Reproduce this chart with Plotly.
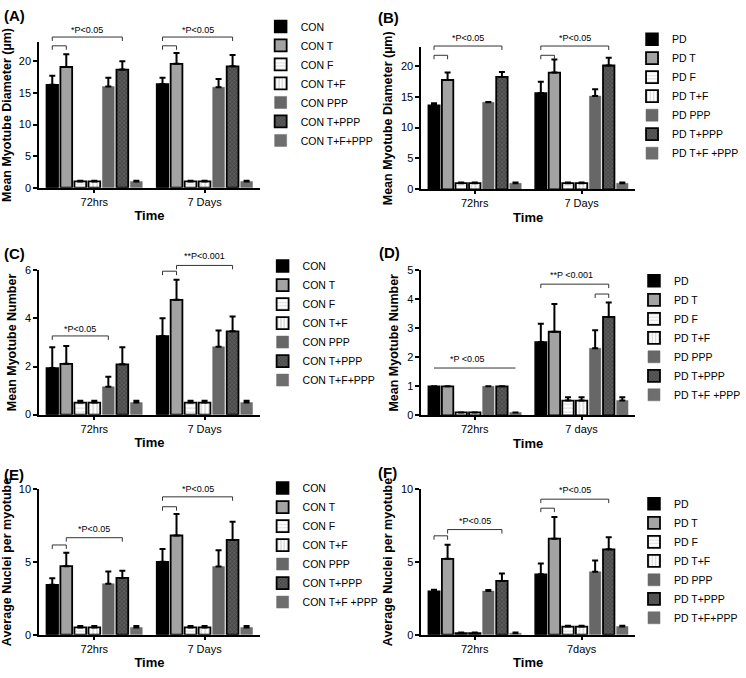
import plotly.graph_objects as go

W, H = 746, 678

# ---------------- data ----------------
series_con = ["CON", "CON T", "CON F", "CON T+F", "CON PPP", "CON T+PPP", "CON T+F+PPP"]
series_con_e = ["CON", "CON T", "CON F", "CON T+F", "CON PPP", "CON T+PPP", "CON T+F +PPP"]
series_pd = ["PD", "PD T", "PD F", "PD T+F", "PD PPP", "PD T+PPP", "PD T+F +PPP"]
series_pd_f = ["PD", "PD T", "PD F", "PD T+F", "PD PPP", "PD T+PPP", "PD T+F+PPP"]

cats_a = ["72hrs", "7 Days"]
cats_d = ["72hrs", "7 days"]
cats_f = ["72hrs", "7days"]

# Panel A: myotube diameter, CON
a_72 = [16.3, 19.1, 1.0, 1.0, 16.0, 18.7, 1.0]
a_72_err = [1.4, 2.0, 0.1, 0.1, 1.4, 1.3, 0.1]
a_7d = [16.4, 19.6, 1.0, 1.0, 15.9, 19.2, 1.0]
a_7d_err = [1.0, 1.7, 0.1, 0.1, 1.3, 1.8, 0.1]
# Panel B: myotube diameter, PD
b_72 = [13.6, 17.7, 1.0, 1.0, 14.1, 18.2, 1.0]
b_72_err = [0.35, 1.2, 0.1, 0.1, 0.05, 0.8, 0.1]
b_7d = [15.6, 18.9, 1.0, 1.0, 15.1, 20.05, 1.0]
b_7d_err = [1.8, 2.1, 0.1, 0.1, 1.1, 1.25, 0.1]
# Panel C: myotube number, CON
c_72 = [1.94, 2.11, 0.5, 0.5, 1.16, 2.09, 0.5]
c_72_err = [0.86, 0.74, 0.08, 0.08, 0.41, 0.71, 0.08]
c_7d = [3.27, 4.77, 0.5, 0.5, 2.82, 3.46, 0.5]
c_7d_err = [0.73, 0.83, 0.08, 0.08, 0.68, 0.62, 0.08]
# Panel D: myotube number, PD
d_72 = [1.0, 1.0, 0.1, 0.1, 1.0, 1.0, 0.1]
d_72_err = [None, None, None, None, None, None, None]
d_7d = [2.53, 2.88, 0.51, 0.51, 2.31, 3.39, 0.51]
d_7d_err = [0.63, 0.96, 0.11, 0.11, 0.62, 0.5, 0.11]
# Panel E: nuclei per myotube, CON
e_72 = [3.43, 4.71, 0.5, 0.5, 3.5, 3.9, 0.5]
e_72_err = [0.45, 0.92, 0.1, 0.1, 0.85, 0.5, 0.1]
e_7d = [5.02, 6.82, 0.5, 0.5, 4.69, 6.52, 0.5]
e_7d_err = [0.88, 1.48, 0.1, 0.1, 1.11, 1.24, 0.1]
# Panel F: nuclei per myotube, PD
f_72 = [2.98, 5.22, 0.1, 0.1, 3.0, 3.7, 0.1]
f_72_err = [0.11, 0.97, 0.05, 0.05, 0.08, 0.5, 0.05]
f_7d = [4.15, 6.6, 0.56, 0.56, 4.33, 5.87, 0.56]
f_7d_err = [0.75, 1.5, 0.06, 0.06, 0.77, 0.83, 0.06]

y_title_diam = "Mean Myotube Diameter (µm)"
y_title_num = "Mean Myotube Number"
y_title_nuc = "Average Nuclei per myotube"

# significance brackets: (category, bar_from, bar_to, level, text, text_level, text_pos, ends)
brackets_a = [(0, 0, 5, 23.84, "*P<0.05", 25.0, None, True), (0, 0, 1, 22.45, "", 0, None, True),
              (1, 0, 5, 23.84, "*P<0.05", 25.0, None, True), (1, 0, 1, 22.45, "", 0, None, True)]
brackets_b = [(0, 0, 5, 23.2, "*P<0.05", 24.5, None, True), (0, 0, 1, 21.7, "", 0, None, True),
              (1, 0, 5, 23.2, "*P<0.05", 24.5, None, True), (1, 0, 1, 21.7, "", 0, None, True)]
brackets_c = [(0, 0, 4, 3.27, "*P<0.05", 3.55, None, True), (1, 0, 1, 5.96, "", 0, None, True),
              (1, 1, 5, 6.2, "**P<0.001", 6.6, None, True)]
brackets_d = [(0, 0, 6, 1.63, "*P <0.05", 1.93, 2.5, False), (1, 0, 5, 4.52, "**P <0.001", 4.82, 2.25, True),
              (1, 4, 5, 4.18, "", 0, None, True)]
brackets_e = [(0, 0, 1, 6.17, "", 0, None, True), (0, 1, 5, 6.67, "*P<0.05", 7.3, None, True),
              (1, 0, 5, 9.48, "*P<0.05", 10.05, None, True), (1, 0, 1, 8.8, "", 0, None, True)]
brackets_f = [(0, 0, 1, 6.8, "", 0, None, True), (0, 1, 5, 7.23, "*P<0.05", 7.8, None, True),
              (1, 0, 5, 9.32, "*P<0.05", 9.95, None, True), (1, 0, 1, 8.7, "", 0, None, True)]

# ---------------- layout geometry (pixels) ----------------
panels = [
    dict(label="(A)", names=series_con, cats=cats_a, v=(a_72, a_7d), e=(a_72_err, a_7d_err), ymax=23, dtick=5,
         xpx=(40, 265), ypx=(185, 37), ytitle=y_title_diam, br=brackets_a, lab=(2, 10), leg=(266, 6)),
    dict(label="(B)", names=series_pd, cats=cats_a, v=(b_72, b_7d), e=(b_72_err, b_7d_err), ymax=23, dtick=5,
         xpx=(430, 648), ypx=(186.7, 42), ytitle=y_title_diam, br=brackets_b, lab=(384, 12), leg=(645, 19)),
    dict(label="(C)", names=series_con, cats=cats_a, v=(c_72, c_7d), e=(c_72_err, c_7d_err), ymax=6, dtick=2,
         xpx=(40, 265), ypx=(416, 269), ytitle=y_title_num, br=brackets_c, lab=(2, 252), leg=(268, 250)),
    dict(label="(D)", names=series_pd, cats=cats_d, v=(d_72, d_7d), e=(d_72_err, d_7d_err), ymax=5, dtick=1,
         xpx=(430, 648), ypx=(416.7, 269), ytitle=y_title_num, br=brackets_d, lab=(385, 251), leg=(647, 265)),
    dict(label="(E)", names=series_con_e, cats=cats_a, v=(e_72, e_7d), e=(e_72_err, e_7d_err), ymax=10, dtick=5,
         xpx=(40, 265), ypx=(640, 492), ytitle=y_title_nuc, br=brackets_e, lab=(2, 477), leg=(268, 476)),
    dict(label="(F)", names=series_pd_f, cats=cats_f, v=(f_72, f_7d), e=(f_72_err, f_7d_err), ymax=10, dtick=5,
         xpx=(430, 648), ypx=(640, 492), ytitle=y_title_nuc, br=brackets_f, lab=(384, 475), leg=(647, 492)),
]

BARGAP = 0.11
BARGROUPGAP = 0.16
NSER = 7

edge = dict(color="#000000", width=1.8)
styles = [
    dict(color="#000000", line=dict(color="#000000", width=1.5)),
    dict(color="#a3a3a3", line=edge),
    dict(color="#ffffff", line=edge,
         pattern=dict(shape="-", fgcolor="#bdbdbd", bgcolor="#ffffff", size=4, solidity=0.35)),
    dict(color="#ffffff", line=edge,
         pattern=dict(shape="|", fgcolor="#a0a0a0", bgcolor="#ffffff", size=4, solidity=0.35)),
    dict(color="#676767", line=dict(color="#676767", width=0.5)),
    dict(color="#555555", line=edge,
         pattern=dict(shape="x", fgcolor="#8a8a8a", bgcolor="#4a4a4a", size=3, solidity=0.35)),
    dict(color="#6e6e6e", line=dict(color="#6e6e6e", width=0.5)),
]

FONT = "Liberation Sans, Arial, sans-serif"

fig = go.Figure()
shapes = []
annotations = []
layout = dict(
    width=W, height=H, margin=dict(l=0, r=0, t=0, b=0),
    paper_bgcolor="white", plot_bgcolor="white",
    barmode="group", bargap=BARGAP, bargroupgap=BARGROUPGAP,
    font=dict(family=FONT, color="black", size=11),
)

for n, p in enumerate(panels, start=1):
    sfx = "" if n == 1 else str(n)
    xname, yname = "x" + sfx, "y" + sfx
    legname = "legend" + sfx
    for s in range(NSER):
        st = styles[s]
        marker = dict(color=st["color"], line=st["line"])
        if "pattern" in st:
            marker["pattern"] = st["pattern"]
        errs = [p["e"][0][s], p["e"][1][s]]
        has_err = any(e is not None for e in errs)
        fig.add_trace(go.Bar(
            x=p["cats"], y=[p["v"][0][s], p["v"][1][s]], name=p["names"][s],
            marker=marker, xaxis=xname, yaxis=yname, legend=legname,
            error_y=dict(type="data", array=[e if e is not None else 0 for e in errs], arrayminus=[0, 0],
                         symmetric=False, color="black", thickness=2, width=3, visible=has_err),
        ))
    x0, x1 = p["xpx"]
    yb, yt = p["ypx"]
    layout["xaxis" + sfx] = dict(
        domain=[x0 / W, x1 / W], anchor=yname, type="category",
        categoryorder="array", categoryarray=p["cats"], range=[-0.5, 1.5],
        showline=True, linecolor="black", linewidth=1.8, mirror=False,
        ticks="outside", ticklen=3, tickwidth=1.5, tickcolor="black",
        tickfont=dict(size=11, family=FONT), showgrid=False, zeroline=False,
        title=dict(text="<b>Time</b>", font=dict(size=13, family=FONT), standoff=4),
    )
    layout["yaxis" + sfx] = dict(
        domain=[1 - yb / H, 1 - yt / H], anchor=xname, range=[0, p["ymax"]], dtick=p["dtick"],
        showline=True, linecolor="black", linewidth=1.8,
        ticks="outside", ticklen=4, tickwidth=1.5, tickcolor="black",
        tickfont=dict(size=11, family=FONT), showgrid=False, zeroline=False,
        title=dict(text="<b>" + p["ytitle"] + "</b>", font=dict(size=12.5, family=FONT), standoff=6),
    )
    lx, ly = p["leg"]
    layout[legname] = dict(
        x=lx / W, y=1 - ly / H, xanchor="left", yanchor="top",
        bgcolor="rgba(0,0,0,0)", borderwidth=0, font=dict(size=10.5, family=FONT),
        tracegroupgap=0,
    )
    # panel label
    annotations.append(dict(text="<b>" + p["label"] + "</b>", x=p["lab"][0] / W, y=1 - p["lab"][1] / H,
                            xref="paper", yref="paper", xanchor="left", yanchor="middle",
                            showarrow=False, font=dict(size=15, family=FONT)))
    # brackets
    slot = (1 - BARGAP) / NSER
    ph = yb - yt
    drop = 4.0 / ph * p["ymax"]  # 4 px tips
    for (c, i1, i2, lvl, txt, tl, tpos, ends) in p["br"]:
        bx1 = c + (i1 - (NSER - 1) / 2) * slot
        bx2 = c + (i2 - (NSER - 1) / 2) * slot
        yd = yname + " domain"
        line = dict(color="#333333", width=1)
        shapes.append(dict(type="line", xref=xname, yref=yd, x0=bx1, x1=bx2,
                           y0=lvl / p["ymax"], y1=lvl / p["ymax"], line=line))
        if ends:
            for bx in (bx1, bx2):
                shapes.append(dict(type="line", xref=xname, yref=yd, x0=bx, x1=bx,
                                   y0=lvl / p["ymax"], y1=(lvl - drop) / p["ymax"], line=line))
        if txt:
            tx = (bx1 + bx2) / 2 if tpos is None else c + (tpos - (NSER - 1) / 2) * slot
            annotations.append(dict(text=txt, x=tx, y=tl / p["ymax"], xref=xname, yref=yd,
                                    showarrow=False, xanchor="center", yanchor="middle",
                                    font=dict(size=9, family=FONT)))

layout["shapes"] = shapes
layout["annotations"] = annotations
fig.update_layout(**layout)
fig.write_html("out.html", config={"displayModeBar": False},
               post_script="document.body.style.margin='0';")
